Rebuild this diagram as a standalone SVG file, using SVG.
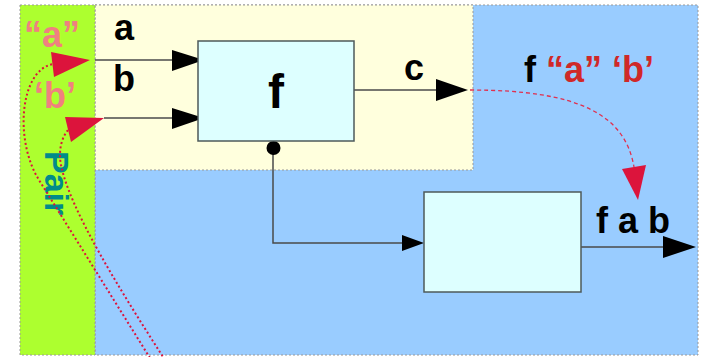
<svg xmlns="http://www.w3.org/2000/svg" width="703" height="357" viewBox="0 0 703 357">
<defs>
<style>
.region{stroke:#999999;stroke-width:1;stroke-dasharray:2 2}
.box{fill:#ddffff;stroke:#4d5a5a;stroke-width:1.5}
.wire{fill:none;stroke:#4a4a4a;stroke-width:1.5}
.head{fill:#000000}
.rhead{fill:#dc143c}
.dots{fill:none;stroke:#dc143c;stroke-width:2;stroke-dasharray:2 2.5}
.dash{fill:none;stroke:#e0304f;stroke-width:1.3;stroke-dasharray:4 3}
text{font-family:"Liberation Sans",Arial,sans-serif;font-weight:bold}
.lbl{font-size:36px;fill:#000000}
.pink{font-size:36px;fill:#f08080}
.red{fill:#d02828}
</style>
</defs>
<rect width="703" height="357" fill="#ffffff"/>
<g id="regions">
<rect id="blue" class="region" x="95" y="5" width="603" height="350" fill="#99ccff"/>
<rect id="yellow" class="region" x="95" y="5" width="378" height="165" fill="#ffffdd"/>
<rect id="green" class="region" x="20" y="5" width="75" height="350" fill="#adff2f"/>
</g>
<g id="labels-green">
<text class="pink" x="24" y="47">“a”</text>
<text class="pink" x="34" y="108">‘b’</text>
<text transform="translate(45,151) rotate(90)" font-size="34" fill="#008b8b">Pair</text>
</g>
<g id="connectors">
<line class="wire" x1="95" y1="60" x2="176" y2="60"/>
<polygon class="head" points="172,50 204,60 172,71"/>
<line class="wire" x1="104" y1="118" x2="176" y2="118"/>
<polygon class="head" points="172,108 204,118 172,129"/>
<line class="wire" x1="354" y1="90" x2="440" y2="90"/>
<polygon class="head" points="436,79 468,90 436,101"/>
<polyline class="wire" points="273,148 273,243 405,243"/>
<circle cx="273.5" cy="148" r="7" fill="#000000"/>
<polygon class="head" points="402,235 424,243 402,251"/>
<line class="wire" x1="581" y1="247" x2="667" y2="247"/>
<polygon class="head" points="663,236 696,247 663,258"/>
<path class="dash" d="M470 90 C580 90,625 115,634 167"/>
<polygon class="rhead" points="622,169 646,165 638,200"/>
<path class="dots" d="M150 358 L39 180 C14 140,20 70,53 64"/>
<polygon class="rhead" points="51,52 90,60 54,77"/>
<path class="dots" d="M165 360 C120 290,70 210,61 165 C58 150,62 137,68 130"/>
<polygon class="rhead" points="65,117 104,118 71,142"/>
</g>
<g id="node-f">
<rect class="box" x="198" y="41" width="156" height="100"/>
<text x="276" y="108" font-size="48" text-anchor="middle">f</text>
</g>
<g id="node-2">
<rect class="box" x="424" y="192" width="157" height="100"/>
</g>
<g id="labels">
<text class="lbl" x="114" y="40">a</text>
<text class="lbl" x="113" y="91">b</text>
<text class="lbl" x="404" y="80">c</text>
<text class="lbl" x="524" y="82">f <tspan class="red">“a” ‘b’</tspan></text>
<text class="lbl" x="596" y="233">f a b</text>
</g>
</svg>
